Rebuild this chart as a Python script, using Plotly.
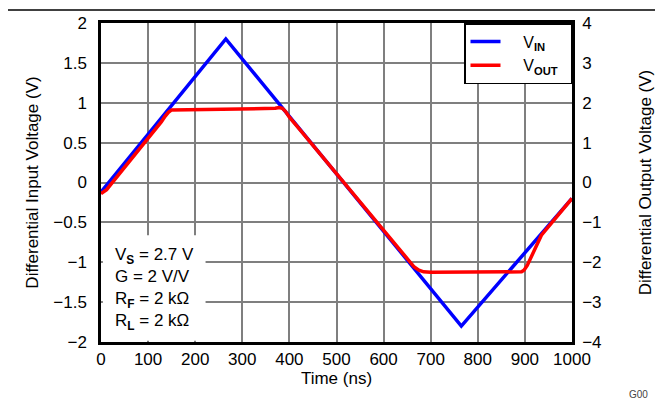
import plotly.graph_objects as go

# Time (ns) and voltages
t_in = [0, 265, 765, 1000]
v_in = [-0.12, 1.80, -1.80, -0.20]

t_out = [0, 12, 20, 60, 100, 128, 136, 143, 150, 250, 360, 370, 378, 385, 392, 400, 420,
         600, 650, 665, 675, 685, 700, 800, 893, 898, 905, 935, 945, 1000]
v_out = [-0.28, -0.18, -0.06, 0.52, 1.09, 1.52, 1.66, 1.76, 1.82, 1.83, 1.84, 1.86, 1.88, 1.86, 1.78,
         1.64, 1.36, -1.22, -1.93, -2.12, -2.20, -2.24, -2.25, -2.25, -2.24, -2.20, -2.08, -1.32, -1.18, -0.40]

xticks = [0, 100, 200, 300, 400, 500, 600, 700, 800, 900, 1000]
yticks_left = [-2, -1.5, -1, -0.5, 0, 0.5, 1, 1.5, 2]
yticks_left_text = ["\u22122", "\u22121.5", "\u22121", "\u22120.5", "0", "0.5", "1", "1.5", "2"]
yticks_right = [-4, -3, -2, -1, 0, 1, 2, 3, 4]
yticks_right_text = ["\u22124", "\u22123", "\u22122", "\u22121", "0", "1", "2", "3", "4"]

FONT = "Liberation Sans"
NB = "\u00a0"
FS = 17

fig = go.Figure()
fig.add_trace(go.Scatter(x=t_in, y=v_in, mode="lines", name=NB * 4 + "V<sub><b>IN</b></sub>",
                         line=dict(color="#0000FF", width=3.5), yaxis="y"))
fig.add_trace(go.Scatter(x=t_out, y=v_out, mode="lines",
                         name=NB * 4 + "V<sub><b>OUT</b></sub>" + NB + "\u2009",
                         line=dict(color="#FF0000", width=3.5), yaxis="y2"))

fig.update_layout(
    width=663, height=403,
    margin=dict(l=93, r=99, t=15, b=69, autoexpand=False),
    paper_bgcolor="white", plot_bgcolor="white",
    font=dict(family=FONT, size=FS, color="black"),
    showlegend=True,
    legend=dict(x=1, y=1, xanchor="right", yanchor="top", bgcolor="white",
                bordercolor="black", borderwidth=1.5, font=dict(size=16, family=FONT),
                tracegroupgap=0, itemwidth=30),
    xaxis=dict(range=[0, 1000], tickvals=xticks, showgrid=True, gridcolor="#7f7f7f",
               gridwidth=1.5, showline=True, linecolor="black", linewidth=2.5,
               mirror=True, ticks="", zeroline=False, automargin=False,
               ticklabelstandoff=0,
               title=dict(text="Time (ns)", standoff=0, font=dict(size=FS, family=FONT)),
               tickfont=dict(size=FS, family=FONT)),
    yaxis=dict(range=[-2, 2], tickvals=yticks_left, ticktext=yticks_left_text,
               showgrid=True, gridcolor="#7f7f7f", gridwidth=1.5, showline=True,
               linecolor="black", linewidth=2.5, ticks="", zeroline=False, automargin=False,
               ticklabelstandoff=8,
               title=dict(text="Differential Input Voltage (V)", standoff=11,
                          font=dict(size=FS, family=FONT)),
               tickfont=dict(size=FS, family=FONT)),
    yaxis2=dict(range=[-4, 4], tickvals=yticks_right, ticktext=yticks_right_text,
                overlaying="y", side="right", showgrid=False, showline=True,
                linecolor="black", linewidth=2.5, ticks="", zeroline=False, automargin=False,
                ticklabelstandoff=4,
                title=dict(text="Differential Output Voltage (V)", standoff=39,
                           font=dict(size=FS, family=FONT)),
                tickfont=dict(size=FS, family=FONT)),
)

# white box behind the conditions text (covers grid)
fig.add_shape(type="rect", xref="paper", yref="paper", x0=0.004, x1=0.222, y0=0.004, y1=0.335,
              fillcolor="white", line=dict(width=0), layer="above")

fig.add_annotation(xref="paper", yref="paper", x=0.025, y=0.31, xanchor="left", yanchor="top",
                   align="left", showarrow=False,
                   text=("V<sub><b>S</b></sub> = 2.7 V<br>G = 2 V/V<br>"
                         "R<sub><b>F</b></sub> = 2 k\u03a9<br>R<sub><b>L</b></sub> = 2 k\u03a9"),
                   font=dict(size=FS, family=FONT))

# top rule line
fig.add_shape(type="line", xref="paper", yref="paper", x0=-0.3, x1=1.3,
              y0=1.041, y1=1.041, line=dict(color="black", width=1.5))

fig.add_annotation(xref="paper", yref="paper", x=1.166, y=-0.166, xanchor="right", yanchor="middle",
                   showarrow=False, text="G00", font=dict(size=10, color="#444444", family=FONT))

fig.write_html("out.html")
